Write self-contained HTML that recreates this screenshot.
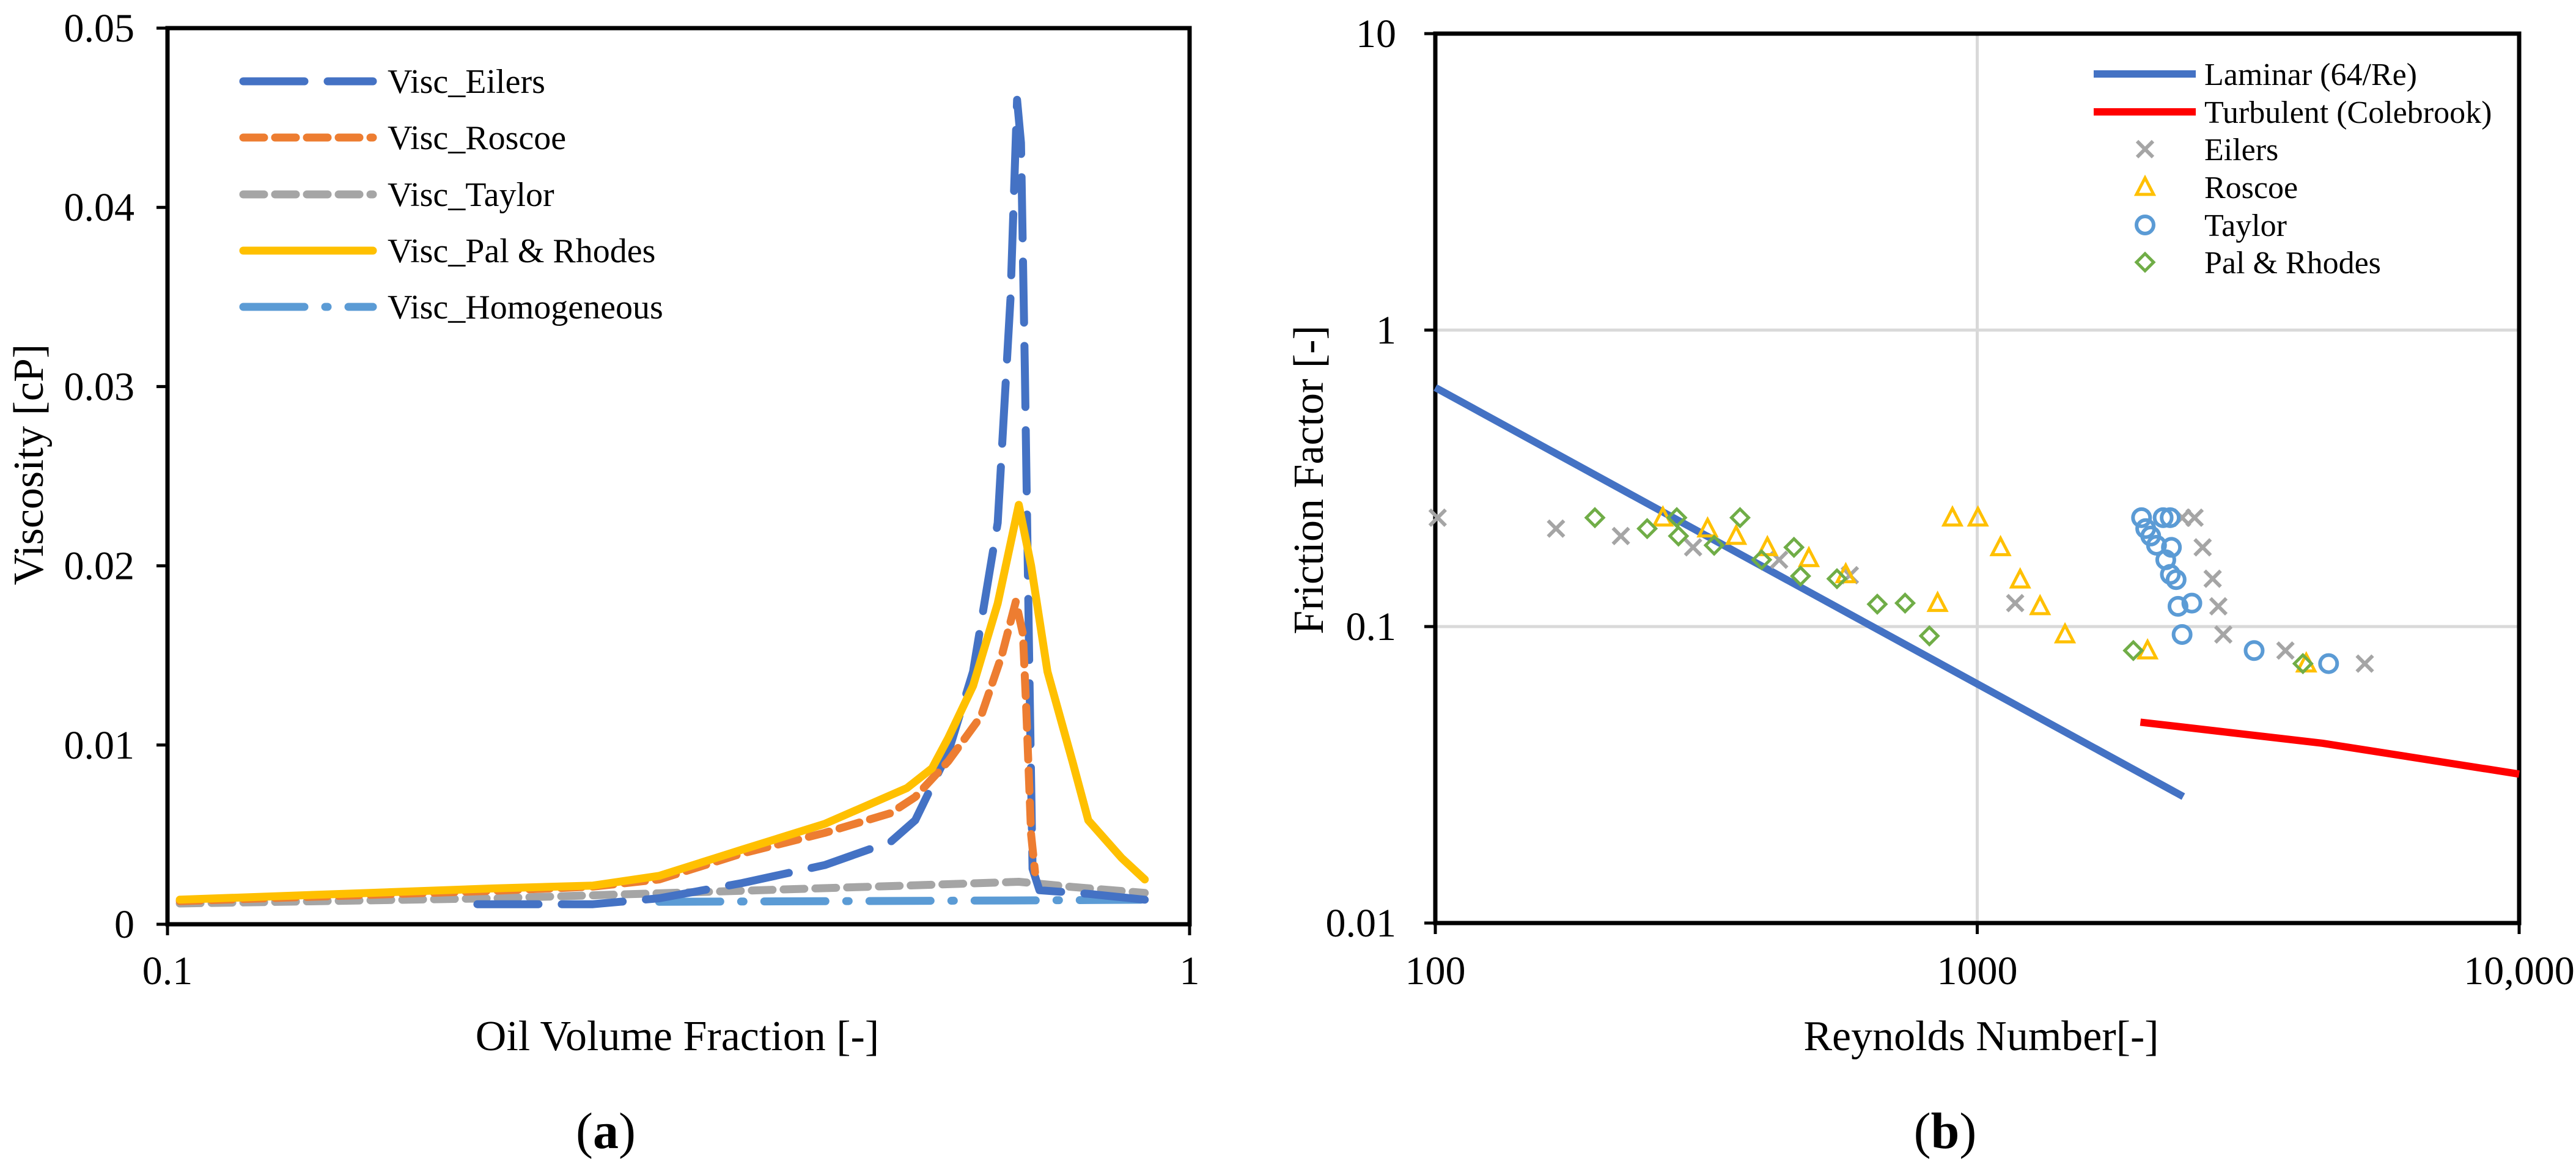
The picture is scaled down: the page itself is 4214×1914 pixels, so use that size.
<!DOCTYPE html>
<html><head><meta charset="utf-8"><style>
html,body{margin:0;padding:0;background:#fff;}
svg{display:block;font-family:"Liberation Serif",serif;}
</style></head><body>
<svg id="fig" width="4214" height="1914" viewBox="0 0 4214 1914" xmlns="http://www.w3.org/2000/svg">
<g id="a"></g>
<g id="b"></g>
</svg>
<script>
// ---- Chart (a) data ----
const aXTicks = [0.1, 1];
const aXTickLabels = ["0.1", "1"];
const aYTicks = [0, 0.01, 0.02, 0.03, 0.04, 0.05];
const aYTickLabels = ["0", "0.01", "0.02", "0.03", "0.04", "0.05"];
const eilersX = [0.201,0.2608,0.3027,0.3648,0.4395,0.51,0.539,0.5807,0.614,0.649,0.668,0.678,0.684,0.690,0.697,0.702,0.713,0.796,0.904];
const eilersY = [0.00112,0.00112,0.00145,0.0023,0.0033,0.0046,0.0058,0.0096,0.0141,0.0224,0.0349,0.0460,0.0436,0.0308,0.0141,0.0031,0.0019,0.0017,0.00137];
const roscoeX = [0.1028,0.2086,0.2608,0.3027,0.3648,0.4395,0.51,0.539,0.5807,0.625,0.655,0.676,0.687,0.692,0.6998,0.706];
const roscoeY = [0.00129,0.00187,0.0021,0.0025,0.00395,0.0051,0.0062,0.0071,0.0091,0.0116,0.0150,0.0180,0.0162,0.0121,0.0050,0.0029];
const taylorX = [0.1028,0.2086,0.3648,0.529,0.6806,0.768,0.904];
const taylorY = [0.00116,0.00145,0.00187,0.00216,0.00237,0.00208,0.00175];
const palX = [0.1028,0.1578,0.2086,0.2608,0.3027,0.3648,0.4395,0.529,0.5598,0.5807,0.614,0.649,0.6806,0.6998,0.726,0.768,0.796,0.858,0.904];
const palY = [0.00137,0.00175,0.0020,0.00216,0.0027,0.00416,0.0056,0.0076,0.0087,0.0104,0.0133,0.0179,0.0234,0.0200,0.0141,0.0091,0.0058,0.0037,0.0025];
const homX = [0.3027,0.687,0.904];
const homY = [0.00125,0.00133,0.00137];

// ---- Chart (b) data ----
const bXTicks = [100, 1000, 10000];
const bXTickLabels = ["100", "1000", "10,000"];
const bYTicks = [0.01, 0.1, 1, 10];
const bYTickLabels = ["0.01", "0.1", "1", "10"];
const laminarRe = [100, 2400];
const laminarF = [0.64, 0.0267];
const turbRe = [2000, 4340, 10000];
const turbF = [0.0476, 0.0404, 0.0318];
const eilRe = [101,167,220,299,431,582,1175,2388,2518,2606,2719,2786,2845,3704,5190];
const eilF = [0.233,0.214,0.202,0.185,0.168,0.149,0.120,0.233,0.233,0.185,0.145,0.117,0.094,0.083,0.075];
const rosRe = [263,318,359,410,489,572,845,900,1003,1104,1200,1306,1452,2062,4047];
const rosF = [0.233,0.214,0.202,0.185,0.170,0.150,0.120,0.233,0.233,0.185,0.144,0.117,0.094,0.083,0.075];
const tayRe = [2010,2203,2270,2046,2090,2142,2282,2228,2272,2328,2347,2489,2388,3243,4450];
const tayF = [0.233,0.233,0.233,0.214,0.202,0.188,0.185,0.168,0.150,0.144,0.117,0.120,0.094,0.083,0.075];
const palRe = [197,246,279,281,327,365,400,459,472,551,654,736,816,1941,3990];
const palF = [0.233,0.214,0.233,0.202,0.188,0.233,0.168,0.185,0.148,0.145,0.119,0.120,0.093,0.083,0.075];

const NS = "http://www.w3.org/2000/svg";
function mk(parent, tag, attrs, text){
  const e = document.createElementNS(NS, tag);
  for (const k in attrs) e.setAttribute(k, attrs[k]);
  if (text !== undefined) e.textContent = text;
  parent.appendChild(e);
  return e;
}
const gA = document.getElementById('a');
const gB = document.getElementById('b');

// ---------- Chart A ----------
const A = {x0:274, x1:1946, y0:46, y1:1512};
const ax = v => A.x0 + (Math.log10(v) + 1) * (A.x1 - A.x0);
const ay = v => A.y1 - v / 0.05 * (A.y1 - A.y0);

let fr = mk(gA, 'rect', {x:A.x0, y:A.y0, width:A.x1-A.x0, height:A.y1-A.y0, fill:'none', stroke:'#000', 'stroke-width':7});


aYTicks.forEach((t,i)=>{
  const y = ay(t);
  let tk = mk(gA,'line',{x1:A.x0-18,x2:A.x0,y1:y,y2:y,stroke:'#000','stroke-width':5});
  
  
  let lb = mk(gA,'text',{x:A.x0-54,y:y+22,'text-anchor':'end','font-size':66}, aYTickLabels[i]);
  
  
});
aXTicks.forEach((t,i)=>{
  const x = ax(t);
  let tk = mk(gA,'line',{x1:x,x2:x,y1:A.y1,y2:A.y1+18,stroke:'#000','stroke-width':5});
  
  
  let lb = mk(gA,'text',{x:x,y:1610,'text-anchor':'middle','font-size':66}, aXTickLabels[i]);
  
  
});
let xt = mk(gA,'text',{x:1108,y:1718,'text-anchor':'middle','font-size':70},'Oil Volume Fraction [-]');


let yt = mk(gA,'text',{x:0,y:0,'text-anchor':'middle','font-size':70,transform:'translate(70,760) rotate(-90)'},'Viscosity [cP]');


let pa = mk(gA,'text',{x:991,y:1878,'text-anchor':'middle','font-size':84},'');


pa.innerHTML = '(<tspan font-weight="bold">a</tspan>)';

const seriesA = [
  {name:'Visc_Eilers', xs:eilersX, ys:eilersY, color:'#4472c4', dash:'100 38', cap:'round'},
  {name:'Visc_Roscoe', xs:roscoeX, ys:roscoeY, color:'#ed7d31', dash:'34 18', cap:'round'},
  {name:'Visc_Taylor', xs:taylorX, ys:taylorY, color:'#a5a5a5', dash:'34 18', cap:'round'},
  {name:'Visc_Pal & Rhodes', xs:palX, ys:palY, color:'#ffc000', dash:'none', cap:'round'},
  {name:'Visc_Homogeneous', xs:homX, ys:homY, color:'#5b9bd5', dash:'100 34 4 34', cap:'round'}
];
const drawOrder = [2,4,0,1,3];
drawOrder.forEach(si=>{
  const s = seriesA[si];
  const d = s.xs.map((v,i)=>(i?'L':'M')+ax(v).toFixed(1)+','+ay(s.ys[i]).toFixed(1)).join(' ');
  const p = mk(gA,'path',{d:d,fill:'none',stroke:s.color,'stroke-width':13,'stroke-dasharray':s.dash,'stroke-linecap':s.cap,'stroke-linejoin':'round'});
  
  
});
const legYa = [133,225,318,410,502];
seriesA.forEach((s,i)=>{
  const y = legYa[i];
  const l = mk(gA,'line',{x1:398,x2:610,y1:y,y2:y,stroke:s.color,'stroke-width':13,'stroke-dasharray':s.dash,'stroke-linecap':s.cap});
  
  
  const t = mk(gA,'text',{x:634,y:y+19,'font-size':56},s.name);
  
  
});

// ---------- Chart B ----------
const B = {x0:2348, x1:4121, y0:55, y1:1510};
const bx = v => B.x0 + (Math.log10(v) - 2) / 2 * (B.x1 - B.x0);
const by = v => B.y1 - (Math.log10(v) + 2) / 3 * (B.y1 - B.y0);

[1000].forEach(v=>{
  const g = mk(gB,'line',{x1:bx(v),x2:bx(v),y1:B.y0,y2:B.y1,stroke:'#d9d9d9','stroke-width':5});
  
  
});
[0.1,1].forEach(v=>{
  const g = mk(gB,'line',{x1:B.x0,x2:B.x1,y1:by(v),y2:by(v),stroke:'#d9d9d9','stroke-width':5});
  
  
});
fr = mk(gB,'rect',{x:B.x0,y:B.y0,width:B.x1-B.x0,height:B.y1-B.y0,fill:'none',stroke:'#000','stroke-width':7});


bYTicks.forEach((t,i)=>{
  const y = by(t);
  let tk = mk(gB,'line',{x1:B.x0-18,x2:B.x0,y1:y,y2:y,stroke:'#000','stroke-width':5});
  
  
  let lb = mk(gB,'text',{x:B.x0-64,y:y+22,'text-anchor':'end','font-size':66}, bYTickLabels[i]);
  
  
});
bXTicks.forEach((t,i)=>{
  const x = bx(t);
  let tk = mk(gB,'line',{x1:x,x2:x,y1:B.y1,y2:B.y1+18,stroke:'#000','stroke-width':5});
  
  
  let lb = mk(gB,'text',{x:x,y:1610,'text-anchor':'middle','font-size':66}, bXTickLabels[i]);
  
  
});
xt = mk(gB,'text',{x:3241,y:1718,'text-anchor':'middle','font-size':70},'Reynolds Number[-]');


yt = mk(gB,'text',{x:0,y:0,'text-anchor':'middle','font-size':70,transform:'translate(2164,785) rotate(-90)'},'Friction Factor [-]');


let pb = mk(gB,'text',{x:3182,y:1878,'text-anchor':'middle','font-size':84},'');


pb.innerHTML = '(<tspan font-weight="bold">b</tspan>)';

function linePath(xs, ys){ return xs.map((v,i)=>(i?'L':'M')+bx(v).toFixed(1)+','+by(ys[i]).toFixed(1)).join(' '); }
let lam = mk(gB,'path',{d:linePath(laminarRe,laminarF),fill:'none',stroke:'#4472c4','stroke-width':12});


let tur = mk(gB,'path',{d:linePath(turbRe,turbF),fill:'none',stroke:'#ff0000','stroke-width':12});



function marker(g, type, x, y, color){
  let e;
  if (type==='x'){
    const r=13;
    e = mk(g,'path',{d:`M${x-r},${y-r}L${x+r},${y+r}M${x-r},${y+r}L${x+r},${y-r}`,stroke:color,'stroke-width':6,fill:'none'});
  } else if (type==='tri'){
    e = mk(g,'path',{d:`M${x},${y-15}L${x+14},${y+12}L${x-14},${y+12}Z`,stroke:color,'stroke-width':5,fill:'none','stroke-linejoin':'miter'});
  } else if (type==='circ'){
    e = mk(g,'circle',{cx:x,cy:y,r:14,stroke:color,'stroke-width':6,fill:'none'});
  } else {
    e = mk(g,'path',{d:`M${x},${y-14}L${x+14},${y}L${x},${y+14}L${x-14},${y}Z`,stroke:color,'stroke-width':5,fill:'none'});
  }
  return e;
}
const scat = [
  {name:'Eilers', xs:eilRe, ys:eilF, type:'x', color:'#a5a5a5'},
  {name:'Roscoe', xs:rosRe, ys:rosF, type:'tri', color:'#ffc000'},
  {name:'Taylor', xs:tayRe, ys:tayF, type:'circ', color:'#5b9bd5'},
  {name:'Pal & Rhodes', xs:palRe, ys:palF, type:'dia', color:'#70ad47'}
];
scat.forEach(s=>{
  s.xs.forEach((v,i)=>{
    const m = marker(gB, s.type, bx(v), by(s.ys[i]), s.color);
    
    
  });
});
// legend b
const legYb = [121,183,244,306,368,429];
let ll = mk(gB,'line',{x1:3425,x2:3592,y1:legYb[0],y2:legYb[0],stroke:'#4472c4','stroke-width':12});


ll = mk(gB,'line',{x1:3425,x2:3592,y1:legYb[1],y2:legYb[1],stroke:'#ff0000','stroke-width':12});


const legNames = ['Laminar (64/Re)','Turbulent (Colebrook)','Eilers','Roscoe','Taylor','Pal & Rhodes'];
scat.forEach((s,i)=>{
  const m = marker(gB, s.type, 3509, legYb[i+2], s.color);
  
  
});
legNames.forEach((n,i)=>{
  const t = mk(gB,'text',{x:3606,y:legYb[i]+18,'font-size':52},n);
  
  
});
</script>
</body></html>
